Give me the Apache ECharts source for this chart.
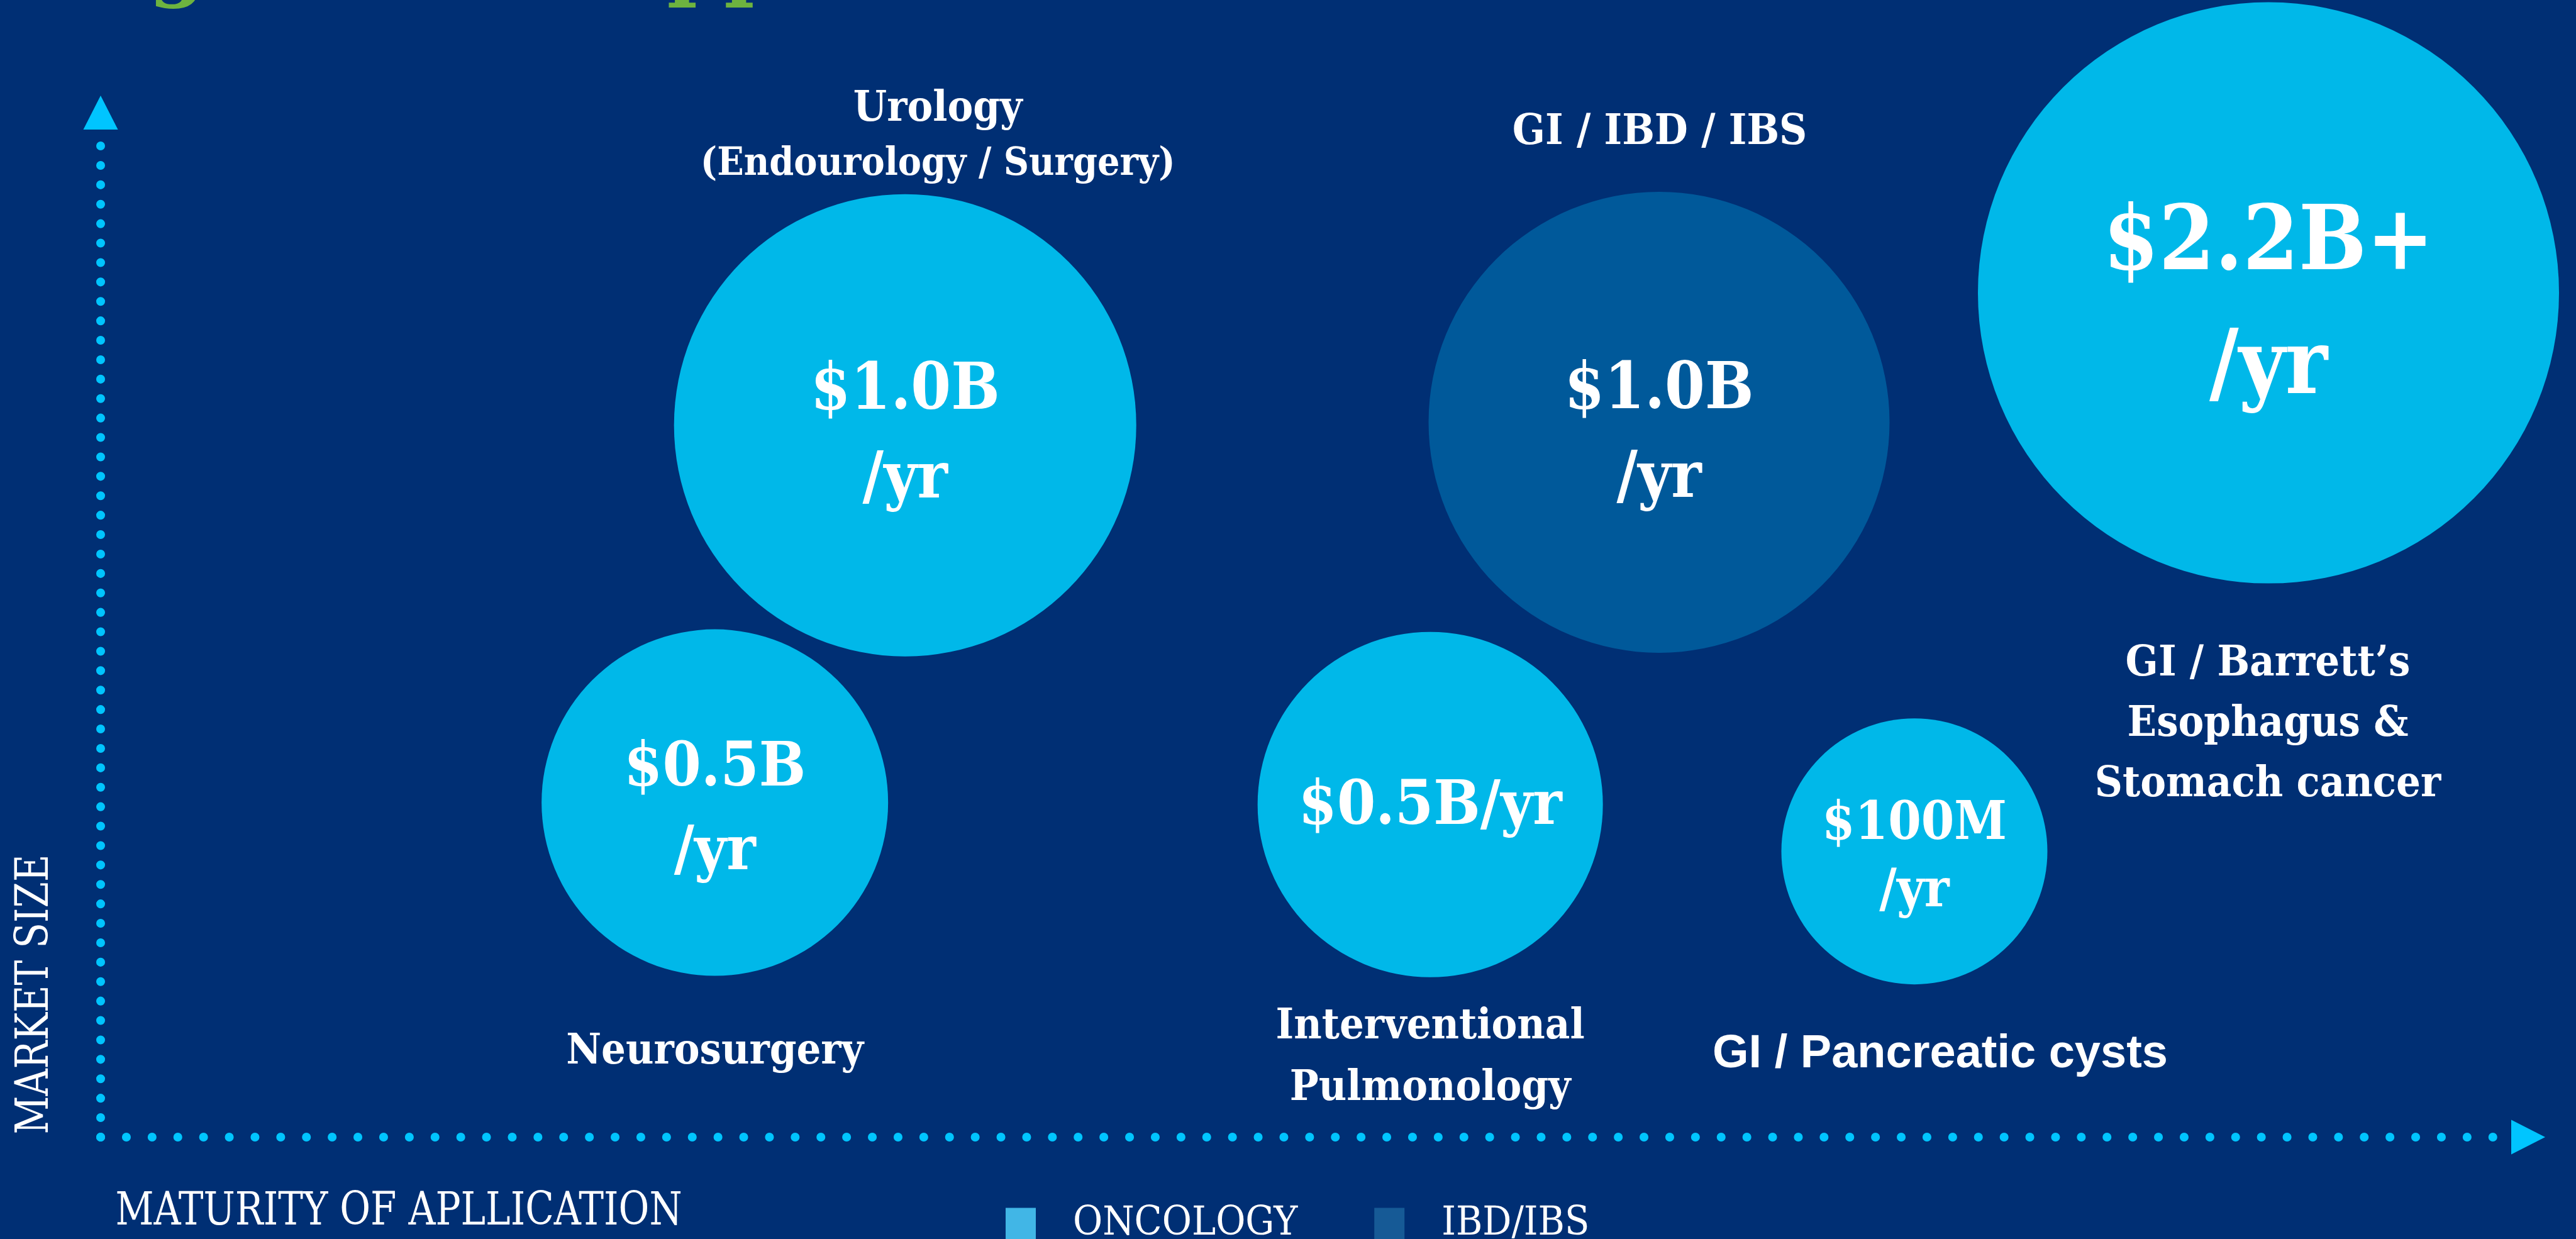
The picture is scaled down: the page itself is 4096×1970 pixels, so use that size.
<!DOCTYPE html>
<html>
<head>
<meta charset="utf-8">
<title>Market size vs maturity of application</title>
<script src="https://cdn.jsdelivr.net/npm/echarts@6/dist/echarts.min.js"></script>
<style>
    html, body { margin: 0; padding: 0; background: #002F74; }
    #chart { width: 4096px; height: 1970px; }
</style>
</head>
<body>
<div id="chart"></div>
<script>
// one entry per application area
const areas = ['Urology\n(Endourology / Surgery)', 'Neurosurgery', 'Interventional\nPulmonology', 'GI / Pancreatic cysts', 'GI / Barrett’s\nEsophagus &\nStomach cancer', 'GI / IBD / IBS'];
const segments = ['ONCOLOGY', 'ONCOLOGY', 'ONCOLOGY', 'ONCOLOGY', 'ONCOLOGY', 'IBD/IBS'];
const marketText = ['$1.0B\n/yr', '$0.5B\n/yr', '$0.5B/yr', '$100M\n/yr', '$2.2B+\n/yr', '$1.0B\n/yr'];
const maturity = [33.4, 25.5, 55.2, 75.3, 90.0, 64.7];     // x, 0..100
const marketSize = [71.5, 33.6, 33.4, 28.7, 84.8, 71.8];   // y, 0..100
const legendNames = ['ONCOLOGY', 'IBD/IBS'];

window.addEventListener('load', function () {
    const SLAB = '"DejaVu Serif Condensed", "DejaVu Serif", serif';
    const SANS = '"Liberation Sans", Arial, sans-serif';
    const DOT = '#00C5FF';

    // look of each bubble / label (pixels)
    const bubblePx = [735, 551, 549, 423, 924, 733];
    const valueFont = [102, 98, 98, 84, 142, 102];
    const valueLine = [141, 133, 133, 107, 197, 141];
    const valueShift = [18, 14, 5, 12, 24, 22];
    const nameShift = [[52, -458], [0, 397], [0, 403], [41, 323], [-1, 687], [1, -460]];
    const nameLine = [88, 80, 98, 80, 96, 80];
    const nameFont = [SLAB, SLAB, SLAB, SANS, SLAB, SLAB];
    const nameSize = [68, 68, 68, 74, 68, 68];
    const colors = {'ONCOLOGY': '#00B8E9', 'IBD/IBS': '#00599A'};
    const legendColors = {'ONCOLOGY': '#41B6E6', 'IBD/IBS': '#165A96'};

    function bubbles(seg) {
        let out = [];
        areas.forEach(function (a, i) {
            if (segments[i] !== seg) return;
            out.push({
                name: a,
                value: [maturity[i], marketSize[i]],
                symbolSize: bubblePx[i],
                label: {
                    formatter: marketText[i],
                    fontSize: valueFont[i],
                    lineHeight: valueLine[i],
                    offset: [0, valueShift[i]]
                }
            });
        });
        return {
            name: seg,
            type: 'scatter',
            data: out,
            itemStyle: {color: colors[seg], opacity: 1},
            label: {
                show: true,
                position: 'inside',
                color: '#fff',
                fontFamily: SLAB,
                fontWeight: 'bold'
            },
            emphasis: {disabled: true},
            silent: true
        };
    }

    let names = areas.map(function (a, i) {
        let label = {
            offset: nameShift[i],
            fontFamily: nameFont[i],
            fontSize: nameSize[i],
            lineHeight: nameLine[i]
        };
        if (i === 0) {
            let lines = a.split('\n');
            label.formatter = '{t|' + lines[0] + '}\n{s|' + lines[1] + '}';
            label.rich = {
                t: {fontSize: 68, lineHeight: 88, fontFamily: SLAB, fontWeight: 'bold', color: '#fff'},
                s: {fontSize: 62, lineHeight: 88, fontFamily: SLAB, fontWeight: 'bold', color: '#fff'}
            };
        }
        return {name: a, value: [maturity[i], marketSize[i]], label: label};
    });

    let chart = echarts.init(document.getElementById('chart'));
    let option = {
        backgroundColor: '#002F74',
        animation: false,
        grid: {left: 160, right: 106, top: 225, bottom: 162},
        xAxis: {
            type: 'value', min: 0, max: 100,
            axisLine: {
                show: true,
                symbol: ['none', 'triangle'],
                symbolSize: [55, 54],
                symbolOffset: [0, 30],
                lineStyle: {color: DOT, width: 14, type: [0.1, 40.8], cap: 'round'}
            },
            axisTick: {show: false},
            axisLabel: {show: false},
            splitLine: {show: false}
        },
        yAxis: {
            type: 'value', min: 0, max: 100,
            axisLine: {
                show: true,
                symbol: ['none', 'triangle'],
                symbolSize: [55, 54],
                symbolOffset: [0, 46],
                lineStyle: {color: DOT, width: 14, type: [0.1, 30.8], cap: 'round'}
            },
            axisTick: {show: false},
            axisLabel: {show: false},
            splitLine: {show: false}
        },
        legend: {
            left: 1594,
            top: 1909,
            orient: 'horizontal',
            icon: 'rect',
            itemWidth: 48,
            itemHeight: 51,
            itemGap: 122,
            selectedMode: false,
            data: legendNames.map(function (n) {
                return {name: n, itemStyle: {color: legendColors[n]}};
            }),
            textStyle: {
                color: '#fff',
                fontFamily: SLAB,
                fontSize: 64,
                padding: [0, 0, 0, 54]
            }
        },
        graphic: [
            {
                type: 'text',
                left: 77, top: -114,
                style: {
                    text: 'Big Market Opportunities',
                    fill: '#6DB33F',
                    font: 'bold 130px "DejaVu Serif", serif'
                }
            },
            {
                type: 'text',
                x: 57, y: 1581,
                rotation: Math.PI / 2,
                style: {
                    text: 'MARKET SIZE',
                    fill: '#fff',
                    font: '72px ' + SLAB,
                    align: 'center',
                    verticalAlign: 'middle'
                },
                scaleX: 0.92
            },
            {
                type: 'text',
                x: 634, y: 1928,
                style: {
                    text: 'MATURITY OF APLLICATION',
                    fill: '#fff',
                    font: '72px ' + SLAB,
                    align: 'center',
                    verticalAlign: 'middle'
                },
                scaleX: 0.92
            }
        ],
        series: [
            bubbles('ONCOLOGY'),
            bubbles('IBD/IBS'),
            {
                name: 'areas',
                type: 'scatter',
                symbolSize: 0,
                data: names,
                silent: true,
                z: 5,
                itemStyle: {opacity: 1},
                label: {
                    show: true,
                    position: 'inside',
                    color: '#fff',
                    opacity: 1,
                    fontWeight: 'bold',
                    formatter: '{b}'
                },
                emphasis: {disabled: true}
            }
        ]
    };
    chart.setOption(option);
}, false);
</script>
</body>
</html>
